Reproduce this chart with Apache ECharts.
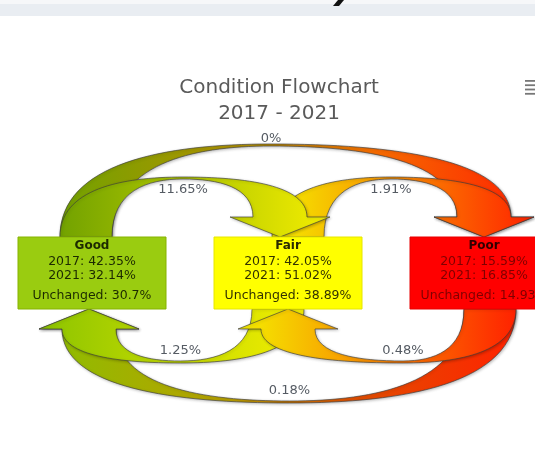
<!DOCTYPE html>
<html><head><meta charset="utf-8">
<script src="https://cdn.jsdelivr.net/npm/echarts@6.0.0/dist/echarts.min.js"></script>
<style>html,body{margin:0;padding:0;background:#fff}#main{width:535px;height:452px}</style>
</head><body><div id="main"></div>
<script>
// ---- data ----
const nodeNames = ['Good', 'Fair', 'Poor'];
const share2017 = [42.35, 42.05, 15.59];
const share2021 = [32.14, 51.02, 16.85];
const unchanged = [30.7, 38.89, 14.93];
const flowFrom  = [0, 1, 0, 1, 2, 2];
const flowTo    = [1, 2, 2, 0, 1, 0];
const flowValue = [11.65, 1.91, 0, 1.25, 0.48, 0.18];

// ---- layout / style constants ----
const L = {
  boxW: 148, boxH: 72,
  stemHalf: 26, shaftHalf: 27, barbHalf: 50, headLen: 20,
  liftNear: 59, liftFar: 92, dropNear: 53, dropFar: 93,
  waistHalf: 1, kV: 0.8, kH: 0.5
};
const stemOffTop = [-6, 10, 0], stemOffBottom = [0, -10, 6];
const headOffTop = [0, -8, 0], headOffBottom = [-3, 0, 0];
// horizontal nudge of the waist, keyed "from-to"
const waistNudge = {'0-2': -14, '2-1': 14, '1-0': -3};
const boxFill = ['#9acc10', '#ffff00', '#ff0000'];
const boxStroke = ['#86b300', '#e6e600', '#e60000'];
const nameColor = ['#1c2a00', '#2a2a00', '#300000'];
const lineColor = ['#1c2a00', '#333300', '#800000'];
const arrowColor = ['#72a200', '#f4ee00', '#ff2200'];
const FONT = '"DejaVu Sans", Verdana, sans-serif';

function cv(P, Q) { // leave vertically, arrive horizontally
  return 'C' + P[0] + ',' + (P[1] + (Q[1] - P[1]) * L.kV) + ' ' +
    (Q[0] - (Q[0] - P[0]) * L.kH) + ',' + Q[1] + ' ' + Q[0] + ',' + Q[1];
}
function ch(P, Q) { // leave horizontally, arrive vertically
  return 'C' + (P[0] + (Q[0] - P[0]) * L.kH) + ',' + P[1] + ' ' +
    Q[0] + ',' + (Q[1] - (Q[1] - P[1]) * L.kV) + ' ' + Q[0] + ',' + Q[1];
}

const flowData = flowFrom.map((f, i) => [f, flowTo[i], flowValue[i]]);
// draw order: long arcs first, then flows leaving the middle node, then the rest
const order = flowData.map((d, i) => i).sort((a, b) => {
  const key = d => Math.abs(d[1] - d[0]) > 1 ? 0 : (d[0] === 1 ? 1 : 2);
  return key(flowData[a]) - key(flowData[b]);
});
const flowSorted = order.map(i => flowData[i]);

function flowRender(params, api) {
  const from = api.value(0), to = api.value(1), val = api.value(2);
  const S = api.coord([from, 0]), T = api.coord([to, 0]);
  const dir = to > from ? 1 : -1;
  const span = Math.abs(to - from);
  const v = -dir;
  const hh = L.boxH / 2;
  const edgeS = S[1] + v * hh, edgeT = T[1] + v * hh;
  const stemC = S[0] + (dir > 0 ? stemOffTop[from] : stemOffBottom[from]);
  const tipX = T[0] + (dir > 0 ? headOffTop[to] : headOffBottom[to]);
  const sA = [stemC - dir * L.stemHalf, edgeS], sB = [stemC + dir * L.stemHalf, edgeS];
  const lift = dir > 0 ? (span > 1 ? L.liftFar : L.liftNear) : (span > 1 ? L.dropFar : L.dropNear);
  const wx = (stemC + tipX) / 2 + (waistNudge[from + '-' + to] || 0), wy = edgeS + v * lift;
  const Wa = [wx, wy + v * L.waistHalf], Wb = [wx, wy - v * L.waistHalf];
  const baseY = edgeT + v * L.headLen;
  const tip = [tipX, edgeT];
  const tA = [tipX + dir * L.shaftHalf, baseY], tB = [tipX - dir * L.shaftHalf, baseY];
  const bA = [tipX + dir * L.barbHalf, baseY], bB = [tipX - dir * L.barbHalf, baseY];
  const d = 'M' + sA + ' ' + cv(sA, Wa) + ' ' + ch(Wa, tA) + ' L' + bA + ' L' + tip + ' L' + bB +
    ' L' + tB + ' ' + cv(tB, Wb) + ' ' + ch(Wb, sB) + ' Z';
  let stops;
  if (span > 1) {
    stops = dir > 0
      ? [{offset: 0, color: arrowColor[from]}, {offset: 0.42, color: '#b89000'}, {offset: 0.66, color: '#f56c00'}, {offset: 1, color: arrowColor[to]}]
      : [{offset: 0, color: arrowColor[from]}, {offset: 0.35, color: '#e05000'}, {offset: 0.6, color: '#b8a000'}, {offset: 1, color: '#8cbf00'}];
  } else {
    stops = [{offset: 0, color: arrowColor[from]}, {offset: 1, color: to === 0 ? '#8cc400' : arrowColor[to]}];
  }
  const x0 = sA[0], x1 = tipX + dir * L.barbHalf;
  const labelY = dir > 0 ? (span > 1 ? wy - 6 : wy + 12) : wy - 11;
  return {
    type: 'group',
    children: [
      {
        type: 'path',
        shape: {pathData: d},
        style: {
          fill: {type: 'linear', x: x0, y: 0, x2: x1, y2: 0, global: true, colorStops: stops},
          stroke: 'rgba(60,60,60,0.65)', lineWidth: 1,
          shadowBlur: 3, shadowColor: 'rgba(0,0,0,0.25)', shadowOffsetX: 1, shadowOffsetY: 1
        }
      },
      {
        type: 'text', z2: 10,
        style: {
          text: val + '%', x: wx, y: labelY, font: '13px ' + FONT, fill: '#555b63',
          align: 'center', verticalAlign: 'middle', textAlign: 'center', textVerticalAlign: 'middle'
        }
      }
    ]
  };
}

function nodeRender(params, api) {
  const i = api.value(0);
  const c = api.coord([i, 0]);
  const x = c[0] - L.boxW / 2, y = c[1] - L.boxH / 2;
  const lines = [
    {t: nodeNames[i], dy: 8.5, bold: true},
    {t: '2017: ' + share2017[i] + '%', dy: 24.5},
    {t: '2021: ' + share2021[i] + '%', dy: 39},
    {t: 'Unchanged: ' + unchanged[i] + '%', dy: 59}
  ];
  return {
    type: 'group',
    children: [{
      type: 'rect',
      shape: {x: x, y: y, width: L.boxW, height: L.boxH},
      style: {fill: boxFill[i], stroke: boxStroke[i], lineWidth: 1}
    }].concat(lines.map(l => ({
      type: 'text',
      style: {
        text: l.t, x: c[0], y: y + l.dy,
        font: (l.bold ? 'bold 12px ' : '12.5px ') + FONT,
        fill: l.bold ? nameColor[i] : lineColor[i],
        align: 'center', verticalAlign: 'middle', textAlign: 'center', textVerticalAlign: 'middle'
      }
    })))
  };
}

const chart = echarts.init(document.getElementById('main'), null, {renderer: 'canvas'});
chart.setOption({
  animation: false,
  backgroundColor: '#ffffff',
  title: {
    text: 'Condition Flowchart\n2017 - 2021',
    left: 274, top: 70, textAlign: 'center',
    textStyle: {fontSize: 20, fontWeight: 'normal', color: '#5a5a5a', fontFamily: 'DejaVu Sans', lineHeight: 26}
  },
  grid: {left: 92, right: 51, top: 94, bottom: 0},
  xAxis: {type: 'value', min: 0, max: 2, show: false},
  yAxis: {type: 'value', min: -1, max: 1, show: false},
  graphic: [
    {type: 'rect', shape: {x: 0, y: 0, width: 535, height: 4}, style: {fill: '#f6f7f9'}},
    {type: 'rect', shape: {x: 0, y: 4, width: 535, height: 12}, style: {fill: '#e9edf2'}},
    {type: 'polygon', shape: {points: [[338, 0], [344, 0], [339, 6], [333, 6]]}, style: {fill: '#111'}},
    {type: 'rect', shape: {x: 525, y: 80, width: 10, height: 1.8}, style: {fill: '#777'}},
    {type: 'rect', shape: {x: 525, y: 84.3, width: 10, height: 1.8}, style: {fill: '#777'}},
    {type: 'rect', shape: {x: 525, y: 88.6, width: 10, height: 1.8}, style: {fill: '#777'}},
    {type: 'rect', shape: {x: 525, y: 92.9, width: 10, height: 1.8}, style: {fill: '#777'}}
  ],
  series: [
    {
      type: 'custom', name: 'flows', z: 2, clip: false,
      renderItem: flowRender,
      data: flowSorted
    },
    {
      type: 'custom', name: 'nodes', z: 5, clip: false,
      renderItem: nodeRender,
      data: nodeNames.map((n, i) => [i, 0])
    }
  ]
});
</script>
</body></html>
